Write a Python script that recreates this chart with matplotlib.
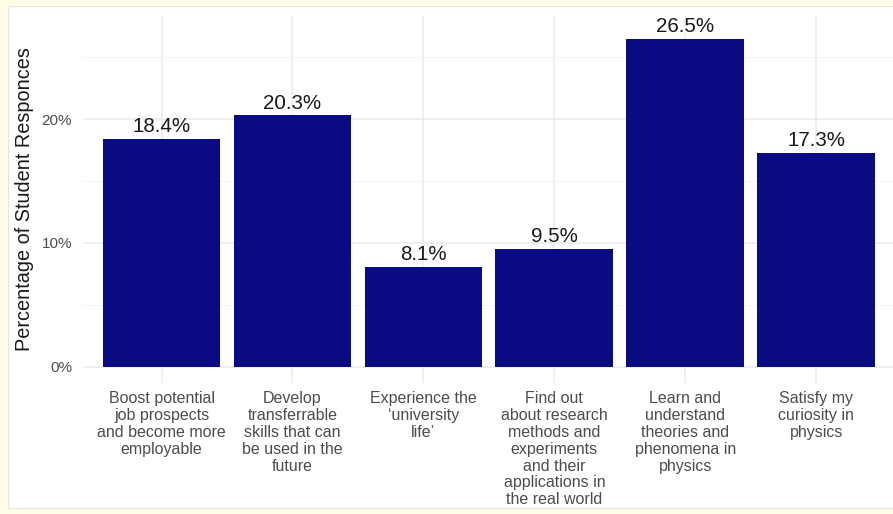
import matplotlib.pyplot as plt
from matplotlib.ticker import FixedLocator
from matplotlib.patches import Rectangle

plt.rcParams['font.family'] = ['Liberation Sans', 'DejaVu Sans']

# Data
categories = [
    "Boost potential\njob prospects\nand become more\nemployable",
    "Develop\ntransferrable\nskills that can\nbe used in the\nfuture",
    "Experience the\n\u2018university\nlife\u2019",
    "Find out\nabout research\nmethods and\nexperiments\nand their\napplications in\nthe real world",
    "Learn and\nunderstand\ntheories and\nphenomena in\nphysics",
    "Satisfy my\ncuriosity in\nphysics",
]
percentages = [18.4, 20.3, 8.1, 9.5, 26.5, 17.3]
y_ticks = [0, 10, 20]
y_minor = [5, 15, 25]

fig = plt.figure(figsize=(8.93, 5.14), dpi=100)
fig.patch.set_facecolor('#FFFDE6')
# white card with a thin grey edge, behind everything
card = Rectangle((8 / 893, 0.012), 1.0, 1 - 0.012 - 6 / 514,
                 transform=fig.transFigure, facecolor='white',
                 edgecolor='#E6E6E0', linewidth=0.8, zorder=-10)
fig.patches.append(card)

ax = fig.add_axes([83 / 893, 1 - 383 / 514, 1 - 83 / 893 + 0.002, 368 / 514])
ax.set_facecolor('none')

x = list(range(len(categories)))
ax.bar(x, percentages, width=0.9, color='#0A0A82', zorder=2)

for xi, v in zip(x, percentages):
    ax.annotate(f"{v}%", (xi, v), xytext=(0, 2), textcoords='offset points',
                ha='center', va='bottom', fontsize=14.8, color='#1A1A1A', zorder=3)

ax.set_xlim(-0.6, 5.6)
ax.set_ylim(-1.3, 28.4)

ax.set_xticks(x)
ax.set_xticklabels(categories, fontsize=11.5, color='#4D4D4D', linespacing=1.15,
                   va='top')
ax.set_yticks(y_ticks)
ax.set_yticklabels([f"{t}%" for t in y_ticks], fontsize=11, color='#4D4D4D')
ax.yaxis.set_minor_locator(FixedLocator(y_minor))
ax.tick_params(axis='both', which='both', length=0)
ax.tick_params(axis='x', pad=6)
ax.tick_params(axis='y', pad=8)

ax.grid(True, which='major', color='#EBEBEB', linewidth=1.1, zorder=0)
ax.grid(True, which='minor', axis='y', color='#F3F3F3', linewidth=0.7, zorder=0)
ax.set_axisbelow(True)
for s in ax.spines.values():
    s.set_visible(False)

ax.set_ylabel("Percentage of Student Responces", fontsize=14.3, color='#1A1A1A',
              labelpad=5)

fig.savefig("out.png", dpi=100)
